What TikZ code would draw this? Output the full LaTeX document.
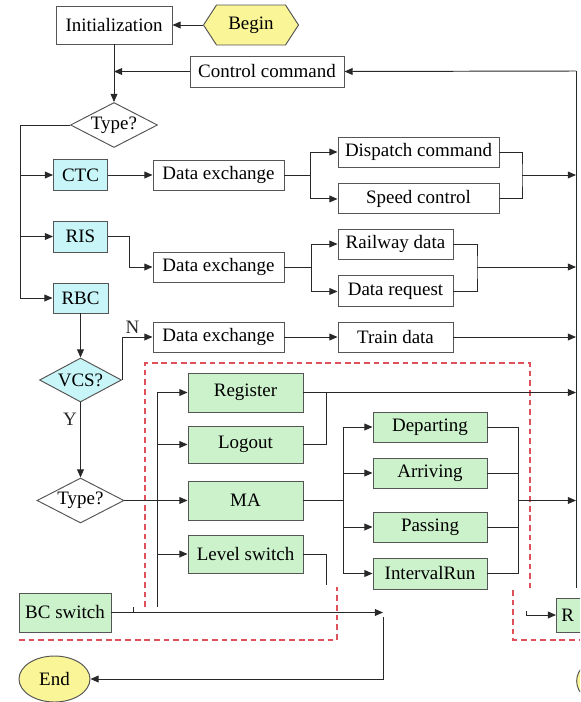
\documentclass[tikz,border=0pt]{standalone}
\usepackage{fontspec}
\setmainfont{Liberation Serif}
\usepackage{tikz}
\usetikzlibrary{shapes.geometric, shapes.symbols, arrows.meta, positioning, calc}
\definecolor{mydark}{RGB}{40,40,40}
\definecolor{mygray}{RGB}{85,85,85}
\definecolor{myred}{RGB}{222,80,90}
\definecolor{hdrcyan}{RGB}{200,245,248}
\definecolor{hdrgreen}{RGB}{204,242,204}
\definecolor{hdryellow}{RGB}{250,245,150}
\newcommand{\pxu}{0.622pt}
\tikzset{
  box/.style={rectangle, draw=mygray, fill=white, align=center,
    inner sep=0pt, line width=0.6pt, font=\fontsize{11.8}{14}\selectfont},
  cyanbox/.style={box, fill=hdrcyan, minimum width=54*\pxu, minimum height=31*\pxu},
  greenbox/.style={box, fill=hdrgreen, minimum width=115*\pxu, minimum height=38*\pxu},
  runbox/.style={greenbox, minimum width=114*\pxu, minimum height=30*\pxu},
  xbox/.style={box, minimum width=131*\pxu, minimum height=30*\pxu},
  dbox/.style={box, minimum width=115*\pxu, minimum height=30*\pxu},
  test/.style={diamond, draw=mygray, fill=white, aspect=2, inner sep=0pt,
    line width=0.6pt, font=\fontsize{11.8}{14}\selectfont,
    minimum width=87*\pxu, minimum height=45*\pxu},
  arr/.style={-{Stealth[length=5pt, width=4.2pt, inset=0pt]}, line width=0.6pt, color=mydark},
  line/.style={line width=0.6pt, color=mydark},
  redline/.style={dash pattern=on 3.6pt off 2.4pt, color=myred, line width=0.7pt}
}

\begin{document}
\begin{tikzpicture}[
  x=\pxu, y=-\pxu,
  lbl/.style={font=\fontsize{11.8}{14}\selectfont, inner sep=2pt},
  termnode/.style={ellipse, draw=mygray, fill=hdryellow, inner sep=0pt, line width=0.6pt,
    font=\fontsize{11.8}{14}\selectfont}
]
\useasboundingbox (0,0) rectangle (580,702);

% start
\node[box, minimum width=116*\pxu, minimum height=38*\pxu] (init) at (114,25) {Initialization};
\node[signal, signal to=west and east, signal pointer angle=114, draw=mygray, fill=hdryellow,
  line width=0.6pt, inner sep=0pt, minimum width=95*\pxu, minimum height=40*\pxu,
  font=\fontsize{11.8}{14}\selectfont] (begin) at (251,25) {Begin};
\node[box, minimum width=154*\pxu, minimum height=31*\pxu] (ctrl) at (267,71.5) {Control command};
\node[test] (type) at (114,125) {Type?};

% sources
\node[cyanbox] (ctc) at (80.5,175) {CTC};
\node[cyanbox] (ris) at (80.5,236.5) {RIS};
\node[cyanbox, minimum width=55*\pxu, minimum height=30*\pxu] (rbc) at (80.5,298) {RBC};
\node[test, fill=hdrcyan, minimum width=82*\pxu, minimum height=44*\pxu] (vcs) at (80.5,380) {VCS?};
\node[test] (vtype) at (80.5,500.5) {Type?};

% data exchange
\node[xbox] (dx1) at (218.5,175) {Data exchange};
\node[xbox] (dx2) at (218.5,267) {Data exchange};
\node[xbox] (dx3) at (218.5,337) {Data exchange};
\node[box, minimum width=161*\pxu, minimum height=30*\pxu] (disp) at (418.5,152) {Dispatch command};
\node[box, minimum width=161*\pxu, minimum height=30*\pxu, below=9.95pt of disp] (speed) {Speed control};
\node[dbox] (rail) at (395.5,244) {Railway data};
\node[dbox, minimum height=31*\pxu, below=9.95pt of rail] (req) {Data request};
\node[dbox] (train) at (395.5,337) {Train data};

% rbc part
\node[greenbox, minimum height=39*\pxu] (reg) at (245.5,392.5) {Register};
\node[greenbox, minimum height=37*\pxu] (logout) at (245.5,444.5) {Logout};
\node[greenbox, minimum height=39*\pxu] (ma) at (245.5,500.5) {MA};
\node[greenbox] (lvl) at (245.5,554) {Level switch};
\node[runbox] (dep) at (430,427) {Departing};
\node[runbox] (arv) at (430,473) {Arriving};
\node[runbox] (pass) at (430,527) {Passing};
\node[runbox, minimum height=31*\pxu] (intv) at (430,573.5) {IntervalRun};
\node[greenbox, minimum width=92*\pxu, minimum height=39*\pxu] (bcsw) at (65,612.5) {BC switch};
\node[termnode, minimum width=71*\pxu, minimum height=46*\pxu] (end) at (54.5,679) {End};

\begin{scope}
\clip (0,0) rectangle (580,702);
\node[greenbox, anchor=west, minimum width=40*\pxu, minimum height=34*\pxu,
  text width=30*\pxu, align=left] (rbx) at (556,615) {R};
\draw[fill=hdryellow, draw=mygray, line width=0.6pt] (604,681) ellipse [x radius=17pt, y radius=14pt];
\end{scope}

% red frame
\draw[redline] (145,607) -- (145,363) -- (530,363) -- (530,588);
\draw[redline] (19,640) -- (337,640) -- (337,587);
\draw[redline] (513,590) -- (513,640) -- (580,640);

% right return line
\coordinate (rtop) at (576,71);
\coordinate (rbot) at (576,588);
\draw[line] (rtop) -- (rbot);
\draw[arr] (rtop) -- (ctrl.east);
\draw[arr] (begin.west) -- (init.east);
\draw[arr] (init) -- (type);
\draw[arr] (ctrl) -- (init |- ctrl);

% type branches
\coordinate (lb) at (20,125);
\draw[arr] (type.west) -- (lb) |- (rbc.west);
\draw[arr] (lb |- ctc) -- (ctc);
\draw[arr] (lb |- ris) -- (ris);

\draw[arr] (ctc) -- (dx1);
\coordinate (f1) at (310,175);
\draw[line] (dx1) -- (f1);
\draw[arr] (f1) |- (disp);
\draw[arr] (f1) |- (speed);
\coordinate (j1) at (522,175);
\draw[line] (disp.east) -| (j1) |- (speed.east);
\draw[arr] (j1) -- (j1 -| rtop);

\draw[arr] (ris.east) -- (129,236.5) |- (dx2.west);
\coordinate (f2) at (311,267);
\draw[line] (dx2) -- (f2);
\draw[arr] (f2) |- (rail);
\draw[arr] (f2) |- (req);
\coordinate (j2) at (477,267);
\draw[line] (rail.east) -| (j2) |- (req.east);
\draw[arr] (j2) -- (j2 -| rtop);

\draw[arr] (rbc) -- (vcs);
\draw[arr] (vcs.east) |- node[lbl, pos=0.5, above right]{N} (dx3.west);
\draw[arr] (dx3) -- (train);
\draw[arr] (train) -- (train -| rtop);
\draw[arr] (vcs) -- node[lbl, pos=0.22, left]{Y} (vtype);
\draw[arr] (vtype) -- (ma);

% rbc bus
\coordinate (bt) at (157,392.5);
\coordinate (bb) at (157,607);
\draw[line] (bt) -- (bb);
\draw[arr] (bt) -- (reg);
\draw[arr] (bt |- logout) -- (logout);
\draw[arr] (bt |- lvl) -- (lvl);
\draw[arr] (reg) -- (reg -| rtop);
\draw[line] (logout.east) -| (326,392.5);

\coordinate (f3) at (343,500.5);
\draw[line] (ma) -- (f3);
\draw[line] (f3 |- dep) -- (f3 |- intv);
\draw[arr] (f3 |- dep) -- (dep);
\draw[arr] (f3 |- arv) -- (arv);
\draw[arr] (f3 |- pass) -- (pass);
\draw[arr] (f3 |- intv) -- (intv);
\coordinate (j3) at (518,500.5);
\draw[line] (dep.east) -| (j3 |- intv) -- (intv.east);
\draw[line] (arv.east) -- (arv.east -| j3);
\draw[line] (pass.east) -- (pass.east -| j3);
\draw[arr] (j3) -- (j3 -| rtop);
\draw[line] (lvl.east) -| (326,585);

% bottom
\coordinate (bcend) at (383,612.5);
\draw[arr] (bcsw) -- (bcend);
\draw[line] (133,607) -- (133,612.5);
\coordinate (endstart) at (383,617);
\draw[arr] (endstart) |- (end);
\draw[arr] (526,611) |- (rbx.west);
\end{tikzpicture}
\end{document}
